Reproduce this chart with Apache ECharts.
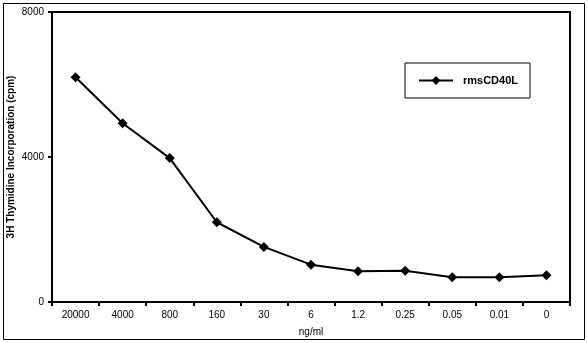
<!DOCTYPE html>
<html>
<head>
<meta charset="utf-8">
<script src="https://cdn.jsdelivr.net/npm/echarts@6/dist/echarts.min.js"></script>
<style>
  html, body { margin: 0; padding: 0; background: #fff; }
  #chart { width: 588px; height: 343px; }
</style>
</head>
<body>
<div id="chart"></div>
<script>
// Dose-response: thymidine incorporation vs. rmsCD40L concentration
const concentrations = ['20000', '4000', '800', '160', '30', '6', '1.2', '0.25', '0.05', '0.01', '0'];
const rmsCD40L = [6200, 4930, 3970, 2200, 1520, 1030, 850, 860, 680, 680, 740];
const yTicks = [0, 4000, 8000];

const font = 'Liberation Sans, Arial, sans-serif';
const chart = echarts.init(document.getElementById('chart'), null, { renderer: 'canvas' });

chart.setOption({
  backgroundColor: '#fff',
  animation: false,
  graphic: [{
    type: 'rect',
    shape: { x: 3.5, y: 3.5, width: 581, height: 336 },
    style: { fill: 'none', stroke: '#000', lineWidth: 1 },
    silent: true
  }],
  grid: {
    left: 52, right: 18, top: 12, bottom: 41,
    containLabel: false,
    outerBoundsMode: 'none',
    show: true, borderColor: '#000', borderWidth: 2, backgroundColor: '#fff'
  },
  legend: {
    left: 405, top: 63,
    padding: [12, 12, 12, 13],
    borderColor: '#000', borderWidth: 1,
    itemWidth: 34, itemHeight: 11,
    textStyle: { fontFamily: font, fontSize: 11, fontWeight: 'bold', color: '#000', padding: [0, 0, 0, 5] },
    data: ['rmsCD40L']
  },
  xAxis: {
    type: 'category',
    data: concentrations,
    boundaryGap: true,
    name: 'ng/ml',
    nameLocation: 'middle',
    nameGap: 25,
    nameMoveOverlap: false,
    nameTextStyle: { fontFamily: font, fontSize: 10, color: '#000' },
    axisLine: { lineStyle: { color: '#000', width: 2 } },
    axisTick: { show: true, inside: false, length: 4, lineStyle: { color: '#000', width: 2 } },
    axisLabel: { fontFamily: font, fontSize: 10, color: '#000', margin: 8 },
    splitLine: { show: false }
  },
  yAxis: {
    type: 'value',
    min: yTicks[0], max: yTicks[yTicks.length - 1], interval: yTicks[1] - yTicks[0],
    name: '3H Thymidine Incorporation (cpm)',
    nameLocation: 'middle',
    nameRotate: 90,
    nameGap: 36,
    nameMoveOverlap: false,
    nameTextStyle: { fontFamily: font, fontSize: 10, fontWeight: 'bold', color: '#000' },
    axisLine: { show: true, lineStyle: { color: '#000', width: 2 } },
    axisTick: { show: true, inside: false, length: 4, lineStyle: { color: '#000', width: 2 } },
    axisLabel: { fontFamily: font, fontSize: 10, color: '#000', margin: 8, formatter: v => String(v) },
    splitLine: { show: false }
  },
  series: [{
    name: 'rmsCD40L',
    type: 'line',
    data: rmsCD40L,
    symbol: 'diamond',
    symbolSize: 10,
    itemStyle: { color: '#000' },
    lineStyle: { color: '#000', width: 2 }
  }]
});
</script>
</body>
</html>
